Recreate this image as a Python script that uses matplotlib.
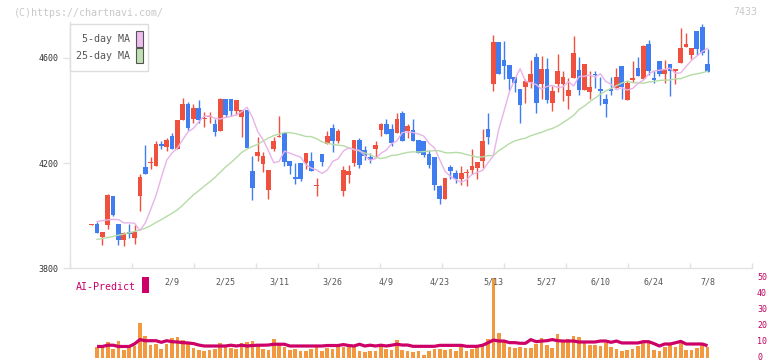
import numpy as np
import pandas as pd
import matplotlib
matplotlib.use("Agg")
import matplotlib.pyplot as plt
from matplotlib.patches import Rectangle
from matplotlib.lines import Line2D

# ---------------- data ----------------
date_labels = ["2/9", "2/25", "3/11", "3/26", "4/9", "4/23", "5/13", "5/27", "6/10", "6/24", "7/8"]
label_idx = [15, 25, 35, 45, 55, 65, 75, 85, 95, 105, 115]

opens = [3966, 3968, 3920, 3966, 4075, 3968, 3908, 3938, 3915, 4076,
         4186, 4199, 4190, 4274, 4262, 4301, 4255, 4362, 4423, 4366,
         4410, 4366, 4375, 4347, 4321, 4442, 4442, 4397, 4375, 4400,
         4171, 4225, 4197, 4096, 4255, 4298, 4313, 4209, 4148, 4201,
         4201, 4209, 4114, 4236, 4271, 4335, 4282, 4092, 4153, 4199,
         4289, 4251, 4224, 4255, 4327, 4350, 4331, 4316, 4392, 4320,
         4324, 4288, 4285, 4236, 4224, 4111, 4065, 4186, 4163, 4141,
         4161, 4172, 4183, 4206, 4331, 4501, 4660, 4591, 4572, 4526,
         4480, 4489, 4507, 4603, 4501, 4557, 4428, 4501, 4501, 4455,
         4522, 4553, 4478, 4470, 4538, 4480, 4442, 4480, 4485, 4568,
         4440, 4515, 4561, 4520, 4652, 4522, 4587, 4538, 4576, 4550,
         4581, 4642, 4612, 4702, 4717, 4576]
highs = [3970, 3976, 3938, 4082, 4075, 3968, 3938, 3968, 3964, 4158,
         4270, 4224, 4282, 4282, 4297, 4316, 4362, 4446, 4431, 4425,
         4438, 4394, 4394, 4369, 4446, 4442, 4442, 4438, 4400, 4400,
         4228, 4298, 4243, 4175, 4298, 4377, 4313, 4209, 4201, 4201,
         4239, 4243, 4144, 4236, 4320, 4347, 4331, 4190, 4194, 4289,
         4297, 4266, 4239, 4285, 4354, 4369, 4350, 4392, 4396, 4347,
         4366, 4288, 4285, 4251, 4224, 4118, 4145, 4194, 4172, 4187,
         4176, 4252, 4205, 4331, 4392, 4687, 4660, 4664, 4572, 4526,
         4480, 4521, 4591, 4618, 4606, 4599, 4492, 4614, 4549, 4522,
         4683, 4603, 4576, 4549, 4549, 4526, 4461, 4526, 4561, 4568,
         4512, 4587, 4603, 4648, 4668, 4549, 4587, 4591, 4576, 4557,
         4713, 4694, 4637, 4702, 4729, 4633]
lows = [3966, 3935, 3889, 3950, 4000, 3889, 3885, 3915, 3893, 4019,
        4160, 4176, 4190, 4255, 4247, 4255, 4255, 4362, 4325, 4352,
        4354, 4336, 4354, 4302, 4321, 4375, 4378, 4382, 4298, 4256,
        4061, 4209, 4167, 4065, 4245, 4298, 4189, 4159, 4122, 4131,
        4176, 4168, 4073, 4187, 4271, 4241, 4278, 4076, 4126, 4187,
        4183, 4210, 4199, 4224, 4302, 4312, 4266, 4316, 4282, 4297,
        4285, 4239, 4224, 4183, 4099, 4046, 4065, 4141, 4126, 4115,
        4111, 4157, 4138, 4183, 4271, 4474, 4539, 4520, 4476, 4470,
        4352, 4428, 4485, 4390, 4442, 4428, 4396, 4470, 4434, 4405,
        4522, 4459, 4478, 4443, 4485, 4420, 4375, 4459, 4485, 4443,
        4440, 4508, 4530, 4520, 4534, 4504, 4531, 4504, 4455, 4501,
        4581, 4642, 4596, 4612, 4612, 4547]
closes = [3969, 3935, 3938, 4079, 4004, 3908, 3934, 3932, 3938, 4148,
          4160, 4204, 4274, 4265, 4289, 4255, 4362, 4423, 4332, 4410,
          4362, 4369, 4378, 4317, 4442, 4382, 4397, 4438, 4400, 4256,
          4107, 4243, 4225, 4175, 4282, 4302, 4203, 4187, 4138, 4138,
          4239, 4168, 4118, 4203, 4304, 4285, 4320, 4175, 4171, 4289,
          4191, 4225, 4210, 4270, 4350, 4312, 4278, 4369, 4282, 4339,
          4285, 4239, 4231, 4191, 4115, 4065, 4145, 4168, 4141, 4163,
          4164, 4187, 4205, 4285, 4298, 4660, 4539, 4569, 4520, 4504,
          4420, 4511, 4538, 4428, 4557, 4440, 4474, 4549, 4526, 4476,
          4618, 4478, 4576, 4488, 4533, 4474, 4424, 4474, 4526, 4489,
          4503, 4522, 4530, 4645, 4550, 4516, 4538, 4553, 4550, 4557,
          4637, 4652, 4637, 4634, 4619, 4547]

# volume (first day has no bar)
volume = [np.nan, 6.9, 6.9, 10.0, 5.6, 10.6, 5.0, 6.9, 7.5, 21.9,
          13.75, 8.1, 8.75, 5.6, 8.75, 12.5, 13.1, 11.25, 9.4, 6.25,
          5.0, 4.4, 5.0, 5.6, 9.4, 6.9, 6.25, 5.6, 9.4, 10.0,
          10.6, 8.1, 5.6, 5.0, 11.9, 8.75, 6.9, 5.0, 5.6, 4.4,
          4.4, 5.6, 6.9, 4.4, 6.25, 5.6, 8.1, 6.9, 6.9, 8.1,
          4.4, 3.75, 4.4, 4.4, 8.1, 5.6, 5.0, 11.25, 5.0, 4.4,
          3.75, 4.4, 1.9, 4.4, 5.6, 5.6, 5.0, 5.6, 4.4, 6.9,
          4.4, 5.6, 6.9, 8.1, 11.9, 50.0, 15.6, 10.0, 6.9, 6.25,
          6.9, 6.25, 6.25, 8.75, 12.5, 8.1, 6.25, 15.0, 10.0, 11.9,
          13.75, 13.1, 9.4, 8.1, 8.1, 7.5, 9.4, 6.9, 5.6, 4.4,
          5.0, 5.6, 7.5, 9.4, 10.0, 5.0, 4.4, 6.9, 9.4, 6.9,
          9.4, 5.0, 5.0, 6.25, 8.1, 6.9]

ai_predict = [np.nan, 7.2, 7.2, 8.0, 8.0, 7.2, 7.2, 7.2, 8.8, 11.5,
              10.8, 10.8, 10.8, 9.8, 10.8, 10.2, 10.0, 9.6, 9.4, 9.0,
              8.1, 7.5, 7.5, 7.5, 7.5, 7.5, 8.0, 7.5, 8.0, 7.5,
              7.8, 8.0, 8.0, 8.1, 8.6, 8.6, 8.6, 7.5, 7.5, 7.5,
              7.5, 7.5, 7.5, 7.5, 7.8, 7.8, 7.8, 8.4, 7.8, 7.5,
              8.6, 7.5, 8.0, 7.5, 8.0, 7.5, 8.0, 8.6, 8.1, 8.1,
              7.3, 7.3, 7.3, 7.3, 7.3, 7.9, 7.9, 7.9, 7.9, 7.9,
              7.3, 7.3, 7.3, 8.0, 9.5, 11.2, 10.6, 10.6, 9.6, 9.6,
              9.2, 9.2, 11.5, 10.2, 10.6, 10.8, 11.5, 10.8, 10.6, 10.6,
              10.6, 10.0, 10.0, 10.0, 10.0, 10.6, 10.6, 9.8, 10.6, 9.4,
              9.4, 9.4, 9.4, 10.2, 10.2, 9.0, 7.5, 8.75, 8.75, 9.5,
              10.4, 8.75, 8.75, 8.75, 8.75, 7.7]

# moving-average values for the first days
ma5_head = [np.nan, 3978, 3981, 3984, 3986]
ma25_head = [np.nan, 3910, 3913, 3917, 3921, 3926, 3930, 3935, 3940, 3946,
             3952, 3962, 3974, 3985, 3997, 4009, 4022, 4040, 4060, 4079,
             4095, 4112, 4128, 4145, 4165]

# ---------------- derived ----------------
n = len(closes)
idx = np.arange(n)
close_s = pd.Series(closes, dtype=float)
ma5 = close_s.rolling(5).mean().shift(1).values
ma5[:len(ma5_head)] = ma5_head
ma25 = close_s.rolling(25).mean().shift(1).values
ma25[:len(ma25_head)] = ma25_head

# ---------------- style ----------------
W, H = 772, 361
UP = "#f0503e"
DOWN = "#3f7df0"
VOLC = "#f2983e"
AIC = "#cc0066"
MA5C = "#e9b3e9"
MA25C = "#b5dca6"
AXC = "#e2e2e2"
MONO = "DejaVu Sans Mono"

fig = plt.figure(figsize=(W / 100, H / 100), dpi=100)
fig.patch.set_facecolor("white")

def fx(px):
    return px / W

def fy(py):
    return 1 - py / H

x0, x1 = 70, 752
slot = 5.355
first_x = 91.7
xlim = ((x0 - first_x) / slot, (x1 - first_x) / slot)

# price axes
p_top, p_bot = 22, 268.3
ax = fig.add_axes([fx(x0), fy(p_bot), fx(x1 - x0), (p_bot - p_top) / H])
ppx = 3.8
ax.set_ylim(3800, 3800 + (p_bot - p_top) * ppx)
ax.set_xlim(*xlim)
ax.set_facecolor("white")
for s in ["top", "right"]:
    ax.spines[s].set_visible(False)
for s in ["left", "bottom"]:
    ax.spines[s].set_color(AXC)
    ax.spines[s].set_linewidth(1)
ax.set_xticks(np.linspace(xlim[0], xlim[1], 12))
ax.set_xticklabels([])
ax.tick_params(axis="x", direction="in", length=3.5, color=AXC, width=1)
ax.set_yticks([3800, 4200, 4600])
ax.set_yticklabels(["3800", "4200", "4600"], fontsize=6, family=MONO, color="#333333")
ax.tick_params(axis="y", direction="out", length=5, color=AXC, width=1, pad=3.5)

# candles
cols = [UP if c >= o else DOWN for o, c in zip(opens, closes)]
ax.vlines(idx, lows, highs, colors=cols, linewidth=1.0, zorder=2)
bottoms = np.minimum(opens, closes)
heights = np.maximum(np.abs(np.array(closes) - np.array(opens)), 3.5)
ax.bar(idx, heights, bottom=bottoms, width=0.88, color=cols, linewidth=0, zorder=3)

# moving averages
ax.plot(idx, ma25, color=MA25C, linewidth=1.0, zorder=4)
ax.plot(idx, ma5, color=MA5C, linewidth=1.0, zorder=4)

# volume axes
v_top, v_bot = 278, 358
axv = fig.add_axes([fx(x0), fy(v_bot), fx(x1 - x0), (v_bot - v_top) / H])
axv.set_xlim(*xlim)
axv.set_ylim(0, 50)
axv.axis("off")
axv.bar(idx, volume, width=0.68, color=VOLC, linewidth=0, zorder=2)
axv.plot(idx, ai_predict, color=AIC, linewidth=2.3, zorder=3, solid_capstyle="butt")
for li, lab in zip(label_idx, date_labels):
    axv.text(li, 50 - (281.7 - v_top) / 1.6, lab, ha="center", va="center",
             fontsize=6, family=MONO, color="#555555")

# right-side volume scale
for v in [0, 10, 20, 30, 40, 50]:
    fig.text(fx(757), fy(v_bot - v * 1.6), str(v), ha="left", va="center",
             fontsize=6, family=MONO, color="#c0005f")

# AI-Predict label
fig.text(fx(76), fy(286.5), "AI-Predict", ha="left", va="center",
         fontsize=7.2, family=MONO, color=AIC)
fig.add_artist(Rectangle((fx(142), fy(293)), fx(7), 16 / H,
                         transform=fig.transFigure, facecolor=AIC, edgecolor="none"))

# legend box
fig.add_artist(Rectangle((fx(70), fy(71)), fx(78), 47 / H, transform=fig.transFigure,
                         facecolor="white", edgecolor="#dddddd", linewidth=1, zorder=5))
fig.text(fx(130), fy(39.5), "5-day MA", ha="right", va="center", fontsize=7.2,
         family=MONO, color="#555555", zorder=6)
fig.text(fx(130), fy(56), "25-day MA", ha="right", va="center", fontsize=7.2,
         family=MONO, color="#555555", zorder=6)
fig.add_artist(Rectangle((fx(136), fy(46.5)), fx(6.5), 15.5 / H, transform=fig.transFigure,
                         facecolor="#efbdef", edgecolor="#555555", linewidth=0.8, zorder=6))
fig.add_artist(Rectangle((fx(136), fy(63)), fx(6.5), 15 / H, transform=fig.transFigure,
                         facecolor="#bfe0b0", edgecolor="#555555", linewidth=0.8, zorder=6))

# header texts
fig.text(fx(14), fy(12.5), "(C)https://chartnavi.com/", ha="left", va="center",
         fontsize=7.2, family=MONO, color="#c8c8c8")
fig.text(fx(757), fy(12), "7433", ha="right", va="center",
         fontsize=7.2, family=MONO, color="#c8c8c8")

fig.savefig("out.png", dpi=100)
